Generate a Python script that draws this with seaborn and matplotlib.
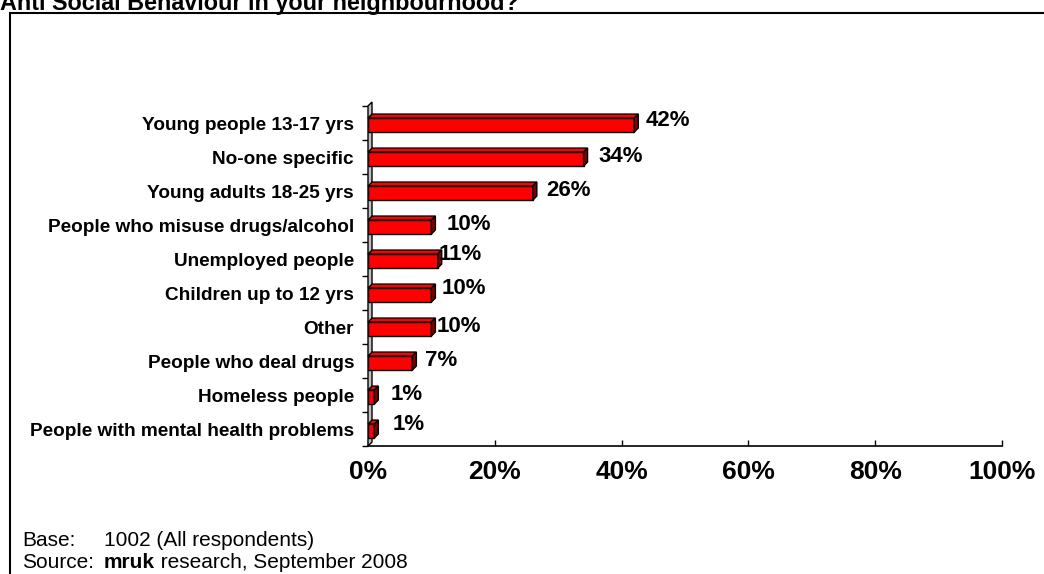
import numpy as np
import matplotlib
matplotlib.use("Agg")
import matplotlib.pyplot as plt
from matplotlib.patches import Polygon, Rectangle
import seaborn as sns

# Who respondents think is responsible for anti-social behaviour
categories = [
    "Young people 13-17 yrs",
    "No-one specific",
    "Young adults 18-25 yrs",
    "People who misuse drugs/alcohol",
    "Unemployed people",
    "Children up to 12 yrs",
    "Other",
    "People who deal drugs",
    "Homeless people",
    "People with mental health problems",
]
percent = [42, 34, 26, 10, 11, 10, 10, 7, 1, 1]
value_labels = ["42%", "34%", "26%", "10%", "11%", "10%", "10%", "7%", "1%", "1%"]
x_ticks = [0, 20, 40, 60, 80, 100]
x_tick_labels = ["0%", "20%", "40%", "60%", "80%", "100%"]

# label nudges (pixels): gap after the bar end, lift above the bar centre
label_gap_px = [7, 11, 9, 11, -3, 6, 1, 9, 12, 14]
label_lift_px = [2, 1, 0, 0, 4, 4, 0, 1, 0, 4]

W, H = 1044, 574
sns.set_theme(style="white")
plt.rcParams["font.family"] = ["Liberation Sans", "DejaVu Sans"]
plt.rcParams["text.color"] = "black"
plt.rcParams["xtick.color"] = "black"
plt.rcParams["ytick.color"] = "black"
plt.rcParams["axes.labelcolor"] = "black"

fig = plt.figure(figsize=(W / 100, H / 100), dpi=100)
fig.patch.set_facecolor("white")

# frame around the chart area (open to the right and bottom)
fig.add_artist(Rectangle((10 / W, -0.05), 1.2, 1 - 13 / H + 0.05,
                         transform=fig.transFigure, fill=False,
                         edgecolor="black", linewidth=1.5))

fig.text(0 / W, 1 - 10 / H, "Anti Social Behaviour in your neighbourhood?",
         fontsize=16.8, fontweight="bold", ha="left", va="baseline")

ax_left, ax_right, ax_top, ax_bottom = 368, 1002, 106, 446
ax = fig.add_axes([ax_left / W, 1 - ax_bottom / H,
                   (ax_right - ax_left) / W, (ax_bottom - ax_top) / H])

sns.barplot(x=percent, y=categories, orient="h", color="#FF0000",
            saturation=1, width=0.41, edgecolor="black", linewidth=1,
            ax=ax, zorder=3)

ax.set_xlim(0, 100)
ax.set_ylim(len(categories) - 0.5, -0.5)

px_x = 100 / (ax_right - ax_left)
px_y = 1 / ((ax_bottom - ax_top) / len(categories))
depth_x = 4 * px_x
depth_y = 4 * px_y

# grey 3-D wall behind the category axis
wall = Polygon([(0, len(categories) - 0.5), (0, -0.5),
                (depth_x, -0.5 - depth_y), (depth_x, len(categories) - 0.5 - depth_y)],
               closed=True, facecolor="#C0C0C0", edgecolor="black",
               linewidth=1, clip_on=False, zorder=2)

bars = list(ax.patches)
ax.add_patch(wall)

# give each bar a top and side face
for bar in bars:
    y0 = bar.get_y() + 0.06
    bar.set_y(y0)
    h = bar.get_height()
    w = bar.get_width()
    top = Polygon([(0, y0), (w, y0), (w + depth_x, y0 - depth_y), (depth_x, y0 - depth_y)],
                  closed=True, facecolor="#FF0000", edgecolor="black",
                  linewidth=1, zorder=3, clip_on=False)
    side = Polygon([(w, y0), (w, y0 + h), (w + depth_x, y0 + h - depth_y),
                    (w + depth_x, y0 - depth_y)],
                   closed=True, facecolor="#800000", edgecolor="black",
                   linewidth=1, zorder=3, clip_on=False)
    ax.add_patch(top)
    ax.add_patch(side)

for i, (v, lab) in enumerate(zip(percent, value_labels)):
    ax.annotate(lab, xy=(v + depth_x, i), xytext=(label_gap_px[i] * 0.72, label_lift_px[i] * 0.72),
                textcoords="offset points", ha="left", va="center",
                fontsize=16, fontweight="bold", color="black", zorder=5)

for side in ["top", "right", "left"]:
    ax.spines[side].set_visible(False)
ax.spines["bottom"].set_color("black")
ax.spines["bottom"].set_linewidth(1.2)

ax.set_xticks(x_ticks)
ax.set_xticklabels(x_tick_labels, fontsize=19, fontweight="bold")
ax.tick_params(axis="x", direction="in", length=4, width=1, color="black",
               pad=10, bottom=True)

ax.set_yticks(np.arange(-0.5, len(categories), 1), minor=True)
ax.tick_params(axis="y", which="minor", direction="out", length=4, width=1,
               color="black", left=True)
ax.tick_params(axis="y", which="major", length=0, pad=10)
for t in ax.get_yticklabels():
    t.set_fontsize(13.7)
    t.set_fontweight("bold")
    t.set_color("black")

ax.set_xlabel("")
ax.set_ylabel("")
ax.grid(False)
ax.set_facecolor("white")

# base / source notes
note_size = 15
note_col = 104
fig.text(22 / W, 1 - 540 / H, "Base:", fontsize=note_size, ha="left", va="center")
fig.text(note_col / W, 1 - 540 / H, "1002 (All respondents)", fontsize=note_size,
         ha="left", va="center")
fig.text(22 / W, 1 - 563 / H, "Source:", fontsize=note_size, ha="left", va="center")
t_bold = fig.text(note_col / W, 1 - 563 / H, "mruk", fontsize=note_size, fontweight="bold",
                  ha="left", va="center")
fig.canvas.draw()
bb = t_bold.get_window_extent()
fig.text(bb.x1 / W, 1 - 563 / H, " research, September 2008", fontsize=note_size,
         ha="left", va="center")

fig.savefig("out.png", dpi=100)
